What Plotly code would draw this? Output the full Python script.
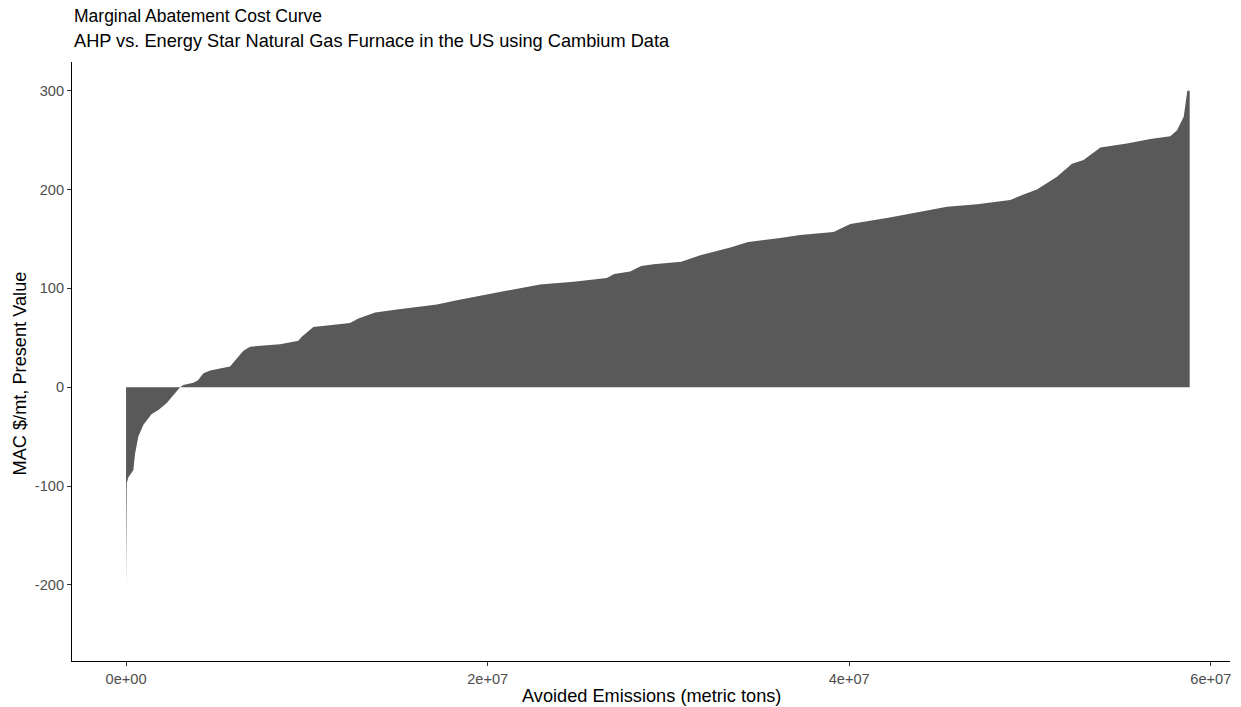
import numpy as np
import plotly.graph_objects as go

# Cumulative avoided emissions (million metric tons) and MAC ($/mt), sorted by cost
avoided_mt = [0.00, 0.00, 0.02, 0.04, 0.13, 0.40, 0.50, 0.68, 0.96, 1.42, 1.79, 2.25,
              2.53, 2.80, 2.99, 3.17, 3.72, 3.98, 4.28, 4.65, 5.75, 6.03, 6.49, 6.86,
              7.41, 8.52, 9.53, 9.72, 10.36, 11.29, 12.39, 12.85, 13.78, 14.98, 17.19,
              18.30, 20.32, 20.87, 22.90, 24.75, 26.59, 27.00, 27.88, 28.49, 29.17,
              30.71, 31.76, 33.42, 34.41, 36.18, 37.29, 39.13, 40.06, 42.16, 45.41,
              47.07, 48.91, 49.64, 50.38, 51.49, 52.32, 52.96, 53.33, 53.89, 55.36,
              56.65, 57.76, 58.13, 58.50, 58.64, 58.70, 58.83, 58.83]
mac_cost = [0, -205, -150, -97, -91, -84, -67, -50, -38, -27, -23, -16,
            -10, -4, 0, 2.3, 4.4, 7, 14, 17, 21, 27, 37, 41,
            42, 43.5, 47, 51, 61, 63, 65, 69.5, 75.6, 78.5, 83.7,
            88, 95, 97, 104, 106.6, 110.4, 114.5, 117, 122.5, 124.5,
            127, 133.6, 141.4, 147, 151, 154, 157, 165, 171.5, 182.5,
            185, 189.4, 195, 200, 212.8, 226, 229.8, 234.8, 242.6, 246.6,
            251, 254, 260, 273.6, 290, 300, 300, 0]

x_tick_vals = [0, 2e7, 4e7, 6e7]
x_tick_text = ["0e+00", "2e+07", "4e+07", "6e+07"]
y_tick_vals = [-200, -100, 0, 100, 200, 300]
y_tick_text = ["-200", "-100", "0", "100", "200", "300"]

title_text = "Marginal Abatement Cost Curve"
subtitle_text = "AHP vs. Energy Star Natural Gas Furnace in the US using Cambium Data"
x_title = "Avoided Emissions (metric tons)"
y_title = "MAC $/mt, Present Value"

FONT = "Liberation Sans, Arial, sans-serif"

x_tons = np.array(avoided_mt) * 1e6

fig = go.Figure()
fig.add_trace(go.Scatter(
    x=x_tons, y=mac_cost,
    mode="lines",
    fill="tozeroy",
    fillcolor="#595959",
    line=dict(width=0, color="#595959"),
    hoverinfo="skip",
    showlegend=False,
))

axis_common = dict(
    showline=True, linecolor="#000000", linewidth=1.1,
    ticks="outside", ticklen=4, tickwidth=1, tickcolor="#333333",
    showgrid=False, zeroline=False, automargin=False,
    tickfont=dict(family=FONT, size=14.6, color="#4D4D4D"),
)

fig.update_layout(
    width=1241, height=707,
    margin=dict(l=72, r=11, t=62, b=46),
    paper_bgcolor="white", plot_bgcolor="white",
    font=dict(family=FONT),
    xaxis=dict(range=[-2.99e6, 61.06e6], tickvals=x_tick_vals, ticktext=x_tick_text,
               **axis_common),
    yaxis=dict(range=[-277, 329], tickvals=y_tick_vals, ticktext=y_tick_text,
               **axis_common),
    annotations=[
        dict(text=title_text, xref="paper", yref="paper", x=0, y=1.077,
             xanchor="left", yanchor="middle", showarrow=False,
             font=dict(family=FONT, size=17.5, color="#000000")),
        dict(text=subtitle_text, xref="paper", yref="paper", x=0, y=1.035,
             xanchor="left", yanchor="middle", showarrow=False,
             font=dict(family=FONT, size=18.2, color="#000000")),
        dict(text=x_title, xref="paper", yref="paper", x=0.5, y=-0.058,
             xanchor="center", yanchor="middle", showarrow=False,
             font=dict(family=FONT, size=18.2, color="#000000")),
        dict(text=y_title, xref="paper", yref="paper", x=-0.0449, y=0.48,
             xanchor="center", yanchor="middle", showarrow=False, textangle=-90,
             font=dict(family=FONT, size=18.2, color="#000000")),
    ],
)

fig.write_html("out.html")
